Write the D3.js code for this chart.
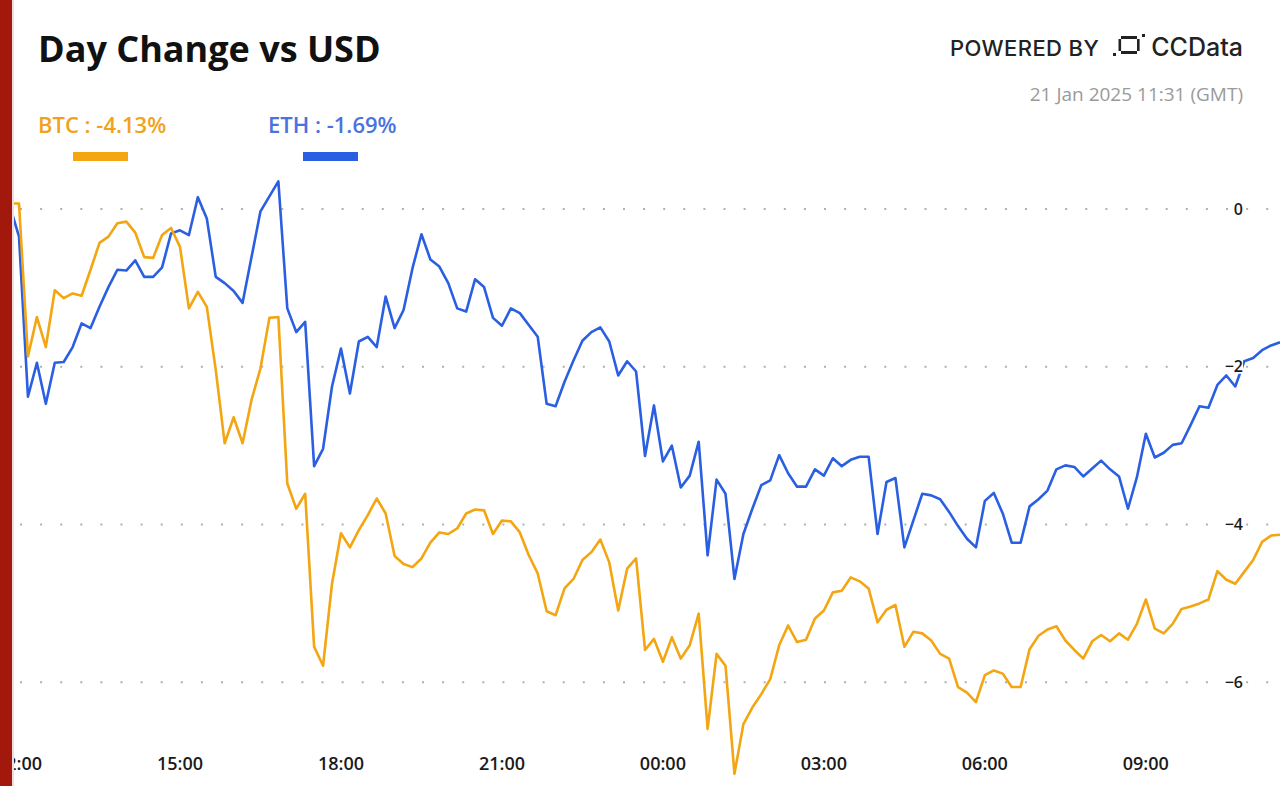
<!DOCTYPE html>
<html>
<head>
<meta charset="utf-8">
<script src="https://d3js.org/d3.v7.min.js"></script>
<style>
body { margin: 0; background: #fff; font-family: "Open Sans", sans-serif; }
svg { display: block; }
</style>
</head>
<body>
<div id="chart"></div>
<script>
// ---- data (10 minute steps, UTC) ----
var startTime = Date.UTC(2025, 0, 20, 11, 50);
var stepMinutes = 10;

var btcValues = [
  0.07, 0.07, -1.87, -1.37, -1.75, -1.03, -1.13, -1.07, -1.10, -0.77, -0.43, -0.35,
  -0.18, -0.16, -0.30, -0.61, -0.62, -0.33, -0.24, -0.48, -1.26, -1.05, -1.24, -2.04,
  -2.97, -2.64, -2.97, -2.42, -2.02, -1.38, -1.37, -3.48, -3.80, -3.61, -5.55, -5.79,
  -4.75, -4.11, -4.29, -4.07, -3.88, -3.67, -3.86, -4.40, -4.50, -4.54, -4.43, -4.23,
  -4.10, -4.12, -4.05, -3.86, -3.81, -3.82, -4.12, -3.95, -3.96, -4.10, -4.39, -4.62,
  -5.10, -5.15, -4.81, -4.69, -4.45, -4.35, -4.19, -4.48, -5.09, -4.56, -4.43, -5.59,
  -5.45, -5.74, -5.43, -5.70, -5.53, -5.13, -6.59, -5.64, -5.79, -7.16, -6.53, -6.32,
  -6.15, -5.96, -5.53, -5.28, -5.49, -5.46, -5.19, -5.09, -4.86, -4.84, -4.67, -4.72,
  -4.81, -5.24, -5.08, -5.02, -5.55, -5.36, -5.38, -5.47, -5.64, -5.70, -6.06, -6.13,
  -6.25, -5.91, -5.85, -5.89, -6.06, -6.06, -5.58, -5.41, -5.33, -5.29, -5.47, -5.59,
  -5.70, -5.48, -5.40, -5.48, -5.38, -5.46, -5.26, -4.95, -5.32, -5.38, -5.26, -5.07,
  -5.04, -5.00, -4.95, -4.59, -4.70, -4.75, -4.60, -4.45, -4.22, -4.14, -4.13
];

var ethValues = [
  0.03, -0.35, -2.38, -1.95, -2.47, -1.95, -1.94, -1.75, -1.45, -1.51, -1.24, -0.99,
  -0.77, -0.78, -0.65, -0.86, -0.86, -0.74, -0.31, -0.27, -0.33, 0.15, -0.12, -0.86,
  -0.94, -1.04, -1.19, -0.61, -0.03, 0.16, 0.35, -1.26, -1.56, -1.43, -3.26, -3.04,
  -2.25, -1.77, -2.34, -1.68, -1.62, -1.75, -1.11, -1.51, -1.28, -0.75, -0.32, -0.64,
  -0.73, -0.94, -1.26, -1.30, -0.89, -0.99, -1.38, -1.48, -1.26, -1.32, -1.47, -1.62,
  -2.47, -2.50, -2.19, -1.92, -1.67, -1.56, -1.50, -1.68, -2.11, -1.93, -2.06, -3.13,
  -2.49, -3.20, -3.00, -3.53, -3.38, -2.95, -4.39, -3.43, -3.61, -4.69, -4.12, -3.80,
  -3.50, -3.44, -3.12, -3.35, -3.52, -3.52, -3.30, -3.38, -3.16, -3.26, -3.18, -3.14,
  -3.14, -4.12, -3.46, -3.41, -4.29, -3.95, -3.61, -3.63, -3.68, -3.84, -4.02, -4.18,
  -4.29, -3.70, -3.60, -3.86, -4.23, -4.23, -3.77, -3.68, -3.57, -3.30, -3.25, -3.27,
  -3.39, -3.29, -3.19, -3.30, -3.39, -3.80, -3.40, -2.85, -3.15, -3.09, -2.99, -2.97,
  -2.74, -2.50, -2.52, -2.23, -2.11, -2.25, -1.93, -1.89, -1.79, -1.73, -1.69
];

var yTicks = [0, -2, -4, -6];
var seriesNames = ["BTC", "ETH"];
var seriesColors = ["#f3a512", "#2b5fe2"];
var legendColors = ["#f0a31a", "#4a72e0"];
var titleText = "Day Change vs USD";
var dateText = "21 Jan 2025 11:31 (GMT)";

// ---- setup ----
var WIDTH = 1280, HEIGHT = 786;
var svg = d3.select("#chart").append("svg")
  .attr("width", WIDTH)
  .attr("height", HEIGHT);

var times = btcValues.map(function(d, i) { return new Date(startTime + i * stepMinutes * 60000); });
var series = [btcValues, ethValues].map(function(vals, k) {
  return {
    name: seriesNames[k],
    color: seriesColors[k],
    points: vals.map(function(v, i) { return { t: times[i], v: v }; })
  };
});

var x = d3.scaleUtc()
  .domain([new Date(Date.UTC(2025, 0, 20, 12)), new Date(Date.UTC(2025, 0, 21, 11, 30))])
  .range([19, 1280]);
var y = d3.scaleLinear()
  .domain([-6, 0])
  .range([682.3, 209]);

// gridlines (dotted)
var grid = svg.append("g");
grid.selectAll("line")
  .data(yTicks)
  .enter().append("line")
    .attr("x1", 20).attr("x2", 1280)
    .attr("y1", function(d) { return y(d); })
    .attr("y2", function(d) { return y(d); })
    .attr("stroke", "#b0b0b0")
    .attr("stroke-width", 2)
    .attr("stroke-dasharray", "2,18.1");

// lines
svg.append("clipPath").attr("id", "plotclip")
  .append("rect").attr("x", 12).attr("y", 150).attr("width", 1270).attr("height", 628);

var line = d3.line()
  .x(function(d) { return x(d.t); })
  .y(function(d) { return y(d.v); });

svg.append("g").attr("clip-path", "url(#plotclip)")
  .selectAll("path")
  .data(series.slice().reverse())
  .enter().append("path")
    .attr("fill", "none")
    .attr("stroke", function(d) { return d.color; })
    .attr("stroke-width", 2.6)
    .attr("stroke-linejoin", "round")
    .attr("d", function(d) { return line(d.points); });

// y axis labels, tight white backing
var yLab = svg.append("g").selectAll("g")
  .data(yTicks)
  .enter().append("g")
    .attr("transform", function(d) { return "translate(1243," + y(d) + ")"; });
yLab.append("rect")
  .attr("x", function(d) { return d === 0 ? -11 : -22; })
  .attr("y", -7)
  .attr("width", function(d) { return d === 0 ? 11 : 22; })
  .attr("height", 14)
  .attr("fill", "#fff");
yLab.append("text")
  .attr("text-anchor", "end")
  .attr("dy", "0.35em")
  .style("font-size", "16px")
  .style("font-weight", 600)
  .style("fill", "#1a1a1a")
  .text(function(d) { return d === 0 ? "0" : "\u2212" + Math.abs(d); });

// x axis labels
var xTicks = x.ticks(d3.utcHour.every(3));
if (+xTicks[0] !== +x.domain()[0]) xTicks.unshift(x.domain()[0]);
svg.append("g").selectAll("text")
  .data(xTicks)
  .enter().append("text")
    .attr("x", function(d) { return x(d); })
    .attr("y", 770)
    .attr("text-anchor", "middle")
    .style("font-size", "18px")
    .style("font-weight", 600)
    .style("fill", "#1a1a1a")
    .text(d3.utcFormat("%H:%M"));

// title
svg.append("text")
  .attr("x", 38).attr("y", 62)
  .style("font-size", "36px")
  .style("font-weight", 700)
  .style("fill", "#111")
  .text(titleText);

// legend
var legendX = [38, 268];
var legend = svg.append("g").selectAll("g")
  .data(series)
  .enter().append("g")
    .attr("transform", function(d, i) { return "translate(" + legendX[i] + ",0)"; });
legend.append("text")
  .attr("y", 133)
  .style("font-size", "22px")
  .style("font-weight", 600)
  .style("fill", function(d, i) { return legendColors[i]; })
  .text(function(d) {
    var last = d.points[d.points.length - 1].v;
    return d.name + " : " + last.toFixed(2) + "%";
  });
legend.append("rect")
  .attr("x", 35).attr("y", 152)
  .attr("width", 55).attr("height", 9)
  .attr("fill", function(d) { return d.color; });

// powered by
svg.append("text")
  .attr("x", 950).attr("y", 56)
  .style("font-family", "Inter, sans-serif")
  .style("font-size", "22px")
  .style("font-weight", 500)
  .style("letter-spacing", "0.4px")
  .style("fill", "#222")
  .text("POWERED BY");
var logo = svg.append("g").attr("transform", "translate(1113,34)").attr("fill", "#222");
logo.append("rect").attr("x", 8).attr("y", 2).attr("width", 16).attr("height", 3);
logo.append("rect").attr("x", 8).attr("y", 17).attr("width", 16).attr("height", 3);
logo.append("rect").attr("x", 5.5).attr("y", 5).attr("width", 2.6).attr("height", 12);
logo.append("rect").attr("x", 24).attr("y", 5).attr("width", 2.6).attr("height", 12);
logo.append("rect").attr("x", 0).attr("y", 19).attr("width", 3).attr("height", 3);
logo.append("rect").attr("x", 29).attr("y", 0).attr("width", 3).attr("height", 3);
svg.append("text")
  .attr("x", 1243).attr("y", 56)
  .attr("text-anchor", "end")
  .style("font-family", "Inter, sans-serif")
  .style("font-size", "25px")
  .style("font-weight", 500)
  .style("fill", "#222")
  .text("CCData");

svg.append("text")
  .attr("x", 1243).attr("y", 101)
  .attr("text-anchor", "end")
  .style("font-size", "19px")
  .style("fill", "#9a9a9a")
  .text(dateText);

// left red bar
svg.append("rect").attr("x", 0).attr("y", 0).attr("width", 12).attr("height", HEIGHT).attr("fill", "#a3180c");
svg.append("rect").attr("x", 12).attr("y", 0).attr("width", 2).attr("height", HEIGHT).attr("fill", "#f2dcd9");
</script>
</body>
</html>
